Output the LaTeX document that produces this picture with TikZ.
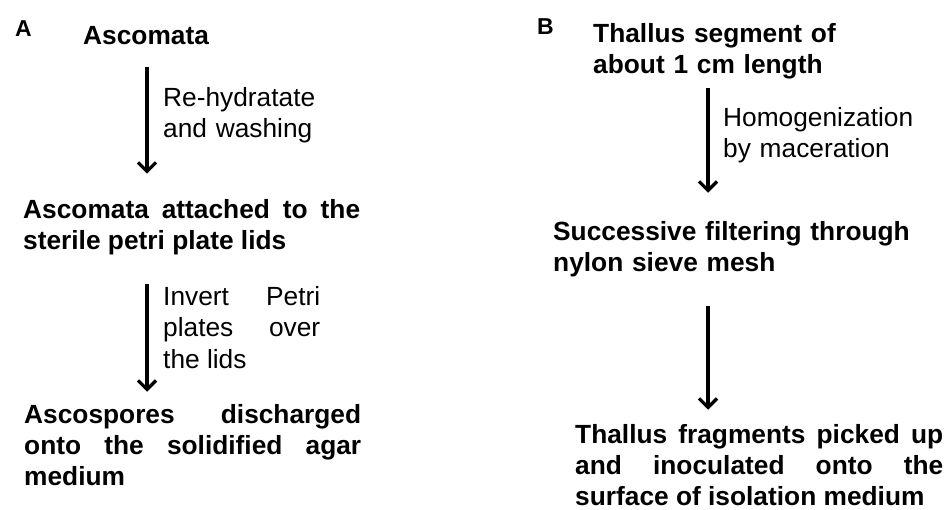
\documentclass[tikz,border=0pt]{standalone}
\usepackage{fontspec}
\setmainfont{Liberation Sans}
\usetikzlibrary{arrows.meta}
\hyphenpenalty=10000
\exhyphenpenalty=10000
\tolerance=10000

\begin{document}
\begin{tikzpicture}[x=1pt,y=-1pt,
  panel/.style={inner sep=0pt,anchor=base west,font=\bfseries\fontsize{23}{27}\selectfont},
  stage/.style={inner sep=0pt,anchor=base west,font=\bfseries\fontsize{26.3}{31}\selectfont},
  note/.style={inner sep=0pt,anchor=base west,font=\fontsize{26.3}{31.5}\selectfont},
  flow/.style={line width=3.2pt,-{Straight Barb[length=9pt,width=18pt]}}]

\useasboundingbox (0,0) rectangle (948,509);

\node [panel] (labA) at (15,36) {A};

\node [stage] (ascA) at (83,44) {Ascomata};

\node [stage,text width=337pt,align=justify] (attA) at (23,218) {Ascomata attached to the\linebreak sterile petri plate lids};

\node [stage,text width=337pt,align=justify] (sporA) at (24,423) {Ascospores discharged\linebreak onto the solidified agar\linebreak medium};

\node [note,text width=200pt,align=left] (hydA) at (163,106) {Re-hydratate\\and washing};

\node [note,text width=157pt,align=justify] (invA) at (163,305) {Invert Petri\linebreak plates over\linebreak the lids};

\coordinate (ax) at (147,0);

\draw [flow,shorten <=23pt,shorten >=25pt] (ascA.south -| ax) -- (attA.north -| ax);

\draw [flow,shorten <=29.5pt,shorten >=12pt] (attA.south -| ax) -- (sporA.north -| ax);

\node [panel] (labB) at (537,34) {B};

\node [stage,text width=260pt,align=left] (thalB) at (593,42) {Thallus segment of\\about 1 cm length};

\node [stage,text width=370pt,align=left] (filtB) at (553,240) {Successive filtering through\\nylon sieve mesh};

\node [stage,text width=368pt,align=justify] (fragB) at (575,443) {Thallus fragments picked up\linebreak and inoculated onto the\linebreak surface of isolation medium};

\node [note,text width=200pt,align=left] (homB) at (723,126) {Homogenization\\by maceration};

\coordinate (bx) at (708,0);

\draw [flow,shorten <=9.5pt,shorten >=28pt] (thalB.south -| bx) -- (filtB.north -| bx);

\draw [flow,shorten <=29.5pt,shorten >=14pt] (filtB.south -| bx) -- (fragB.north -| bx);

\end{tikzpicture}
\end{document}
